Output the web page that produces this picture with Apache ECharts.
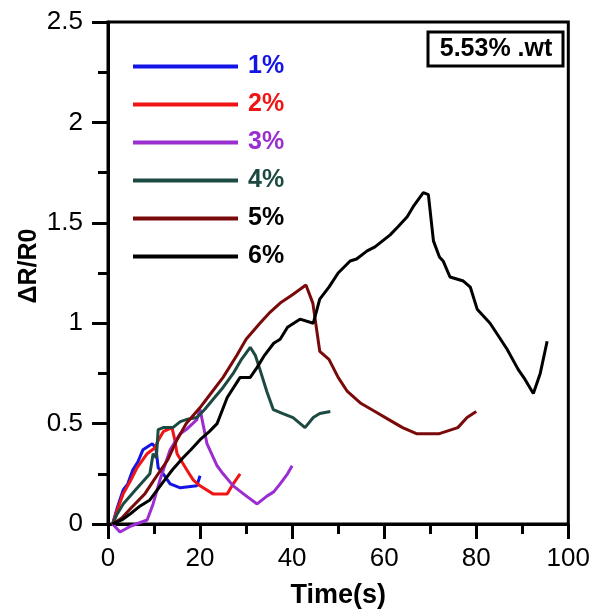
<!DOCTYPE html>
<html><head><meta charset="utf-8">
<script src="https://cdn.jsdelivr.net/npm/echarts@6/dist/echarts.min.js"></script>
<style>html,body{margin:0;padding:0;background:#fff}#c{width:593px;height:614px}</style>
</head><body><div id="c"></div>
<script>
const seriesNames = ['1%','2%','3%','4%','5%','6%'];
const lineColors = ['#1414e6','#f01414','#9a2ed0','#1c4a42','#7a0a0a','#000000'];
const legendTextColors = ['#1414e6','#f01414','#9a2ed0','#1c4a42','#000000','#000000'];
const xTicks = [0,20,40,60,80,100];
const yTicks = [0,0.5,1,1.5,2,2.5];

const s1 = [[1,0],[2,0.08],[3.3,0.17],[4.3,0.2],[5.4,0.27],[6.5,0.31],[7.6,0.37],[9.6,0.40],[10.4,0.38],[10.9,0.28],[12,0.25],[13.5,0.2],[15.7,0.18],[19.3,0.19],[20,0.24]];
const s2 = [[1,0],[2,0.07],[3.3,0.15],[5,0.22],[6.3,0.28],[8.5,0.35],[10.2,0.38],[11,0.42],[12,0.46],[13.9,0.48],[14.5,0.42],[15,0.35],[17.1,0.27],[18.5,0.22],[20,0.19],[22.8,0.15],[25.9,0.15],[27.2,0.2],[28.7,0.25]];
const s3 = [[1,0],[2.6,-0.04],[5,-0.01],[8.5,0.02],[9.8,0.1],[11.3,0.22],[13.5,0.37],[15.7,0.45],[17,0.47],[19.3,0.52],[20,0.57],[20.8,0.48],[21.5,0.4],[23.7,0.29],[25,0.25],[27.2,0.19],[30,0.14],[32.4,0.1],[34.6,0.14],[36,0.16],[37.4,0.2],[39,0.25],[40,0.29]];
const s4 = [[1,0],[2,0.05],[3.3,0.1],[6,0.17],[9.1,0.25],[9.8,0.35],[10.5,0.33],[10.9,0.47],[12,0.48],[14.1,0.48],[15.7,0.51],[17,0.52],[19.3,0.53],[21,0.57],[22.8,0.62],[25,0.68],[27.2,0.75],[29,0.82],[30.9,0.88],[32,0.84],[33,0.77],[34.5,0.66],[35.9,0.57],[38,0.55],[40.2,0.53],[42.8,0.48],[44.6,0.53],[46,0.55],[48.3,0.56]];
const s5 = [[1,0],[3,0.03],[5,0.08],[8,0.15],[10,0.22],[13,0.32],[15,0.42],[17,0.5],[20,0.58],[22,0.64],[25,0.73],[28,0.84],[30,0.92],[33,1.0],[35,1.05],[37.4,1.1],[40,1.14],[43,1.19],[44.5,1.1],[46,0.86],[48,0.82],[50,0.73],[52,0.66],[55,0.6],[58,0.56],[61,0.52],[64,0.48],[67,0.45],[72,0.45],[76,0.48],[78,0.53],[80,0.56]];
const s6 = [[1,0],[3,0.02],[4.8,0.05],[7,0.09],[9.1,0.12],[12,0.21],[14,0.27],[16.3,0.33],[18,0.37],[20,0.42],[22,0.46],[23.7,0.5],[25.9,0.63],[28.7,0.73],[30.9,0.73],[32.4,0.78],[34,0.84],[36,0.9],[37.4,0.92],[39,0.98],[41.7,1.02],[44.6,1.0],[46,1.12],[48,1.18],[50,1.25],[52.6,1.31],[54,1.32],[56.3,1.36],[58,1.38],[61.3,1.44],[63,1.48],[65,1.53],[66.3,1.58],[68.5,1.65],[69.6,1.64],[70.7,1.41],[72,1.33],[72.8,1.31],[74.3,1.23],[77.2,1.21],[78.7,1.18],[80.2,1.07],[83,1.0],[85,0.93],[86.7,0.87],[89.1,0.77],[90.6,0.72],[92.4,0.65],[93.9,0.75],[95.4,0.91]];
const allData = [s1,s2,s3,s4,s5,s6];

const chart = echarts.init(document.getElementById('c'));
const font = 'Liberation Sans, Arial, sans-serif';
chart.setOption({
  backgroundColor:'#fff',
  animation:false,
  grid:{left:108,right:24,top:22,bottom:90,show:true,borderColor:'#000',borderWidth:3,backgroundColor:'transparent'},
  xAxis:{type:'value',min:xTicks[0],max:xTicks[xTicks.length-1],interval:20,
    axisLine:{lineStyle:{color:'#000',width:3}},
    axisTick:{length:15,lineStyle:{color:'#000',width:3}},
    minorTick:{show:true,splitNumber:2,length:10,lineStyle:{color:'#000',width:3}},
    splitLine:{show:false},
    axisLabel:{color:'#000',fontSize:26,fontFamily:font,margin:22},
    name:'Time(s)',nameLocation:'middle',nameGap:58,
    nameTextStyle:{color:'#000',fontSize:27,fontWeight:'bold',fontFamily:font}},
  yAxis:{type:'value',min:yTicks[0],max:yTicks[yTicks.length-1],interval:0.5,
    axisLine:{lineStyle:{color:'#000',width:3}},
    axisTick:{length:16,lineStyle:{color:'#000',width:3}},
    minorTick:{show:true,splitNumber:2,length:10,lineStyle:{color:'#000',width:3}},
    splitLine:{show:false},
    axisLabel:{color:'#000',fontSize:26,fontFamily:font,margin:25}},
  legend:{orient:'vertical',left:128,top:49,itemWidth:105,itemHeight:4,itemGap:13,icon:'rect',
    textStyle:{fontSize:25,fontWeight:'bold',fontFamily:font,padding:[0,0,0,5]},
    data:seriesNames.map((n,i)=>({name:n,textStyle:{color:legendTextColors[i]}}))},
  graphic:[
    {type:'text',x:29,y:266,rotation:Math.PI/2,style:{text:'ΔR/R0',fill:'#000',font:'bold 25px '+font,textAlign:'center',textVerticalAlign:'middle'}},
    {type:'rect',shape:{x:428,y:32,width:135,height:34},style:{fill:'#fff',stroke:'#000',lineWidth:3}},
    {type:'text',x:496,y:49,style:{text:'5.53% .wt',fill:'#000',font:'bold 25px '+font,textAlign:'center',textVerticalAlign:'middle'}}
  ],
  series:allData.map((d,i)=>({name:seriesNames[i],type:'line',data:d,showSymbol:false,clip:false,
    lineStyle:{color:lineColors[i],width:3},itemStyle:{color:lineColors[i]}}))
});
</script></body></html>
